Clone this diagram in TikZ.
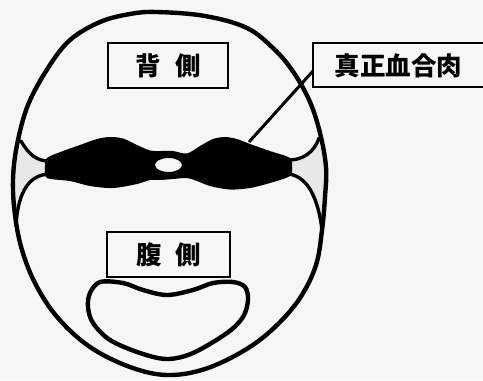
\documentclass[tikz,border=0pt]{standalone}
\usepackage{fontspec}
\newfontfamily\jp{Noto Sans CJK JP}
\definecolor{paper}{RGB}{246,246,246}
\definecolor{lateral}{RGB}{232,232,232}
\begin{document}
\begin{tikzpicture}[x=0.02cm, y=-0.02cm,
  skin/.style={line width=2.5pt, line join=round},
  lobe/.style={line width=1.9pt, line cap=round},
  tag/.style={draw, line width=1.1pt, minimum width=24mm, minimum height=9mm,
              inner sep=0pt, font=\jp\bfseries\fontsize{14.5pt}{16pt}\selectfont},
  leader/.style={line width=1.7pt}]
\useasboundingbox (0,0) rectangle (483,380);
\fill[paper] (0,0) rectangle (483,380);
\clip (0,0) rectangle (483,380);

% pale lateral-line zones between skin and muscle
\fill[lateral] (22,143) .. controls (30,155) and (38,160) .. (48,161)
  -- (48,173) .. controls (30,176) and (19,190) .. (16,225)
  -- (14,200) -- (14,165) -- cycle;
\fill[lateral] (318,140) .. controls (313,153) and (300,159) .. (290,160)
  -- (290,174) .. controls (310,178) and (318,200) .. (322,230)
  -- (326,195) -- (326,165) -- cycle;

% skin outline of the cross-section
\draw[skin] plot[smooth cycle, tension=0.6] coordinates {
  (157,12) (205,16) (247,28) (275,50) (294,73) (310,102) (320,133)
  (326,167) (325,197) (322,230) (316,265) (300,298) (275,327) (245,350)
  (205,369) (167,375) (130,367) (90,347) (58,318) (36,285) (22,250)
  (15,215) (13,180) (17,145) (28,105) (48,68) (70,40) (100,22) (130,14)};

% dorsal/ventral muscle boundaries meeting the septum
\draw[lobe] (21,141) .. controls (29,155) and (37,161) .. (49,161);
\draw[lobe] (49,174) .. controls (30,175) and (18,190) .. (16,226);
\draw[lobe] (319,138) .. controls (314,153) and (302,160) .. (289,160);
\draw[lobe] (289,174) .. controls (308,177) and (318,198) .. (322,230);

% dark muscle band with the central spinal canal
\fill[black, even odd rule] plot[smooth cycle, tension=0.5] coordinates {
  (47,158) (63,151) (80,145) (97,139) (110,137) (123,138.5) (137,145)
  (150,150.5) (160,151) (173,151) (187,153.5) (200,146) (213,139) (225,137)
  (237,139) (250,144) (270,151) (290,158) (292,167) (290,176) (270,183)
  (250,188) (230,189.5) (210,186) (197,181) (187,178) (173,179) (160,180)
  (150,180) (137,184) (113,188) (90,186) (70,181) (47,178) (45,168)}
  (168.5,165) ellipse [x radius=2.7mm, y radius=1.4mm];

% body cavity
\draw[skin] plot[smooth cycle, tension=0.55] coordinates {
  (100,282) (123,283) (143,290) (167,295) (193,290) (213,283) (233,282)
  (245,287) (248,300) (243,317) (227,333) (193,353) (167,359) (140,353)
  (110,340) (93,323) (88,307) (90,293)};

% labels
\node[tag] (dorsal) at (168,65.5) {背\hspace{0.55em}側};
\node[tag, minimum width=24.6mm] (ventral) at (168.5,254.5) {腹\hspace{0.55em}側};

\node[font=\jp\bfseries\fontsize{14.5pt}{16pt}\selectfont, inner sep=0pt]
  (lbltext) at (398.5,65.5) {真正血合肉};
\coordinate (lblNW) at (313,43);
\coordinate (lblSW) at (313,87);
\coordinate (lblanchor) at (313,71);
\draw[line width=1.6pt] (495,43) -- (lblNW) -- (lblSW) -- (495,87);

\coordinate (darkmeat) at (249,142);
\draw[leader] (lblanchor) -- (darkmeat);
\end{tikzpicture}
\end{document}
